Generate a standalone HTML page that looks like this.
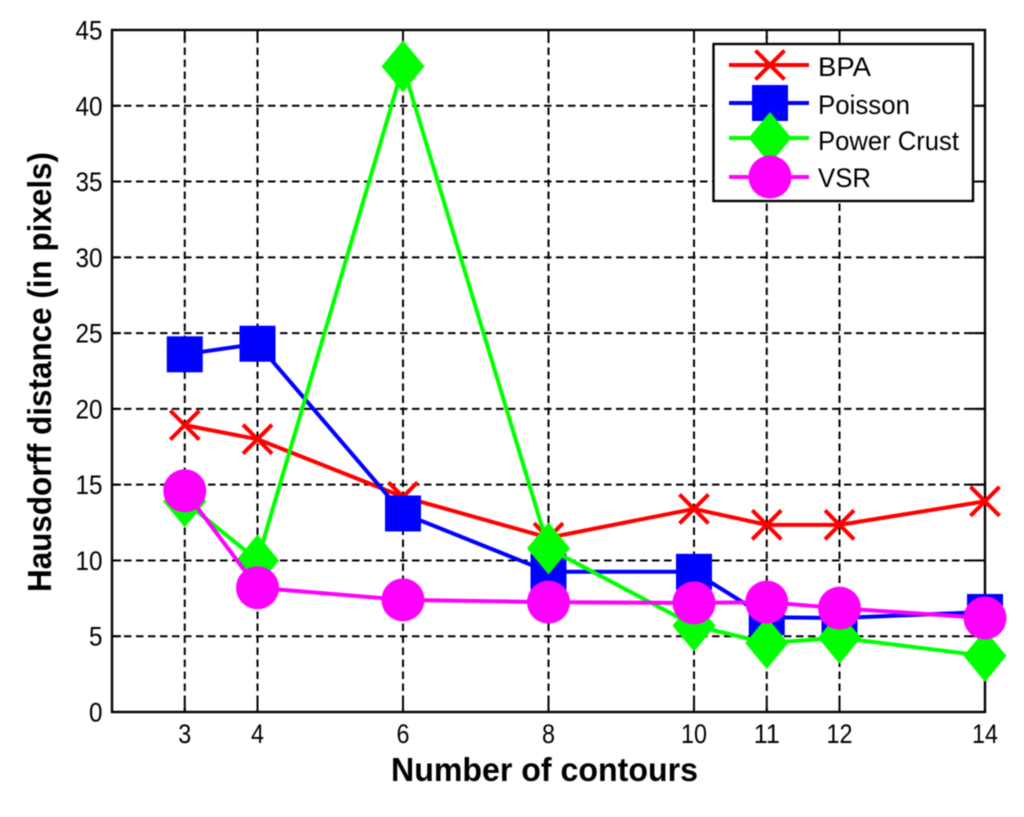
<!DOCTYPE html>
<html>
<head>
<meta charset="utf-8">
<title>Hausdorff distance chart</title>
<style>
  html, body { margin: 0; padding: 0; background: #fff; }
  #chart { display: block; width: 1024px; height: 817px; filter: blur(0.4px); }
  text { font-family: "Liberation Sans", sans-serif; fill: #000; }
</style>
</head>
<body>
<svg id="chart" xmlns="http://www.w3.org/2000/svg" width="1024" height="817" viewBox="0 0 1024 817"></svg>
<script>
const contourCounts = [3, 4, 6, 8, 10, 11, 12, 14];
const yTickValues = [0, 5, 10, 15, 20, 25, 30, 35, 40, 45];
const bpaValues = [18.93, 18.0, 14.2, 11.5, 13.4, 12.35, 12.35, 13.9];
const poissonValues = [23.6, 24.3, 13.1, 9.25, 9.25, 6.25, 6.2, 6.6];
const powerCrustValues = [13.9, 10.0, 42.6, 10.8, 5.7, 4.55, 4.9, 3.7];
const vsrValues = [14.6, 8.2, 7.4, 7.25, 7.2, 7.25, 6.85, 6.2];
const seriesNames = ['BPA', 'Poisson', 'Power Crust', 'VSR'];

const NS = 'http://www.w3.org/2000/svg';
const svg = document.getElementById('chart');
const plot = { left: 112, right: 985, top: 30, bottom: 712 };
const xMin = 2, xMax = 14, yMin = 0, yMax = 45;

function xScale(v) { return plot.left + (v - xMin) / (xMax - xMin) * (plot.right - plot.left); }
function yScale(v) { return plot.bottom - (v - yMin) / (yMax - yMin) * (plot.bottom - plot.top); }

function make(tag, attrs, parent) {
  const el = document.createElementNS(NS, tag);
  for (const k in attrs) el.setAttribute(k, attrs[k]);
  (parent || svg).appendChild(el);
  return el;
}

function drawMarker(kind, color, cx, cy, parent) {
  if (kind === 'x') {
    const r = 14.5;
    return make('path', { d: `M${cx - r} ${cy - r}L${cx + r} ${cy + r}M${cx - r} ${cy + r}L${cx + r} ${cy - r}`, stroke: color, 'stroke-width': 4, fill: 'none' }, parent);
  }
  if (kind === 'square') {
    return make('rect', { x: cx - 18, y: cy - 18, width: 36, height: 36, fill: color }, parent);
  }
  if (kind === 'diamond') {
    return make('polygon', { points: `${cx},${cy - 26} ${cx + 21.5},${cy} ${cx},${cy + 26} ${cx - 21.5},${cy}`, fill: color }, parent);
  }
  return make('circle', { cx: cx, cy: cy, r: 21.5, fill: color }, parent);
}

const bg = make('rect', { x: plot.left, y: plot.top, width: plot.right - plot.left, height: plot.bottom - plot.top, fill: '#fff' });



const gridGroup = make('g', { stroke: '#000', 'stroke-width': 2, 'stroke-dasharray': '7.5 4.5', fill: 'none' });


contourCounts.forEach(function (c) {
  const line = make('line', { x1: xScale(c), x2: xScale(c), y1: plot.bottom, y2: plot.top, 'stroke-dashoffset': 3 }, gridGroup);
  
  
});
yTickValues.slice(1, -1).forEach(function (t) {
  const line = make('line', { x1: plot.left, x2: plot.right, y1: yScale(t), y2: yScale(t) }, gridGroup);
  
  
});

const tickGroup = make('g', { stroke: '#000', 'stroke-width': 2, fill: 'none' });


const tickLen = 9;
contourCounts.forEach(function (c) {
  const x = xScale(c);
  make('line', { x1: x, x2: x, y1: plot.bottom, y2: plot.bottom - tickLen }, tickGroup);
  make('line', { x1: x, x2: x, y1: plot.top, y2: plot.top + tickLen }, tickGroup);
});
yTickValues.forEach(function (t) {
  const y = yScale(t);
  make('line', { x1: plot.left, x2: plot.left + tickLen, y1: y, y2: y }, tickGroup);
  make('line', { x1: plot.right, x2: plot.right - tickLen - 6, y1: y, y2: y }, tickGroup);
});

const frame = make('rect', { x: plot.left, y: plot.top, width: plot.right - plot.left, height: plot.bottom - plot.top, fill: 'none', stroke: '#000', 'stroke-width': 2.4 });



contourCounts.forEach(function (c) {
  const t = make('text', { x: xScale(c), y: 743, 'text-anchor': 'middle', 'font-size': 27, textLength: String(c).length * 13, lengthAdjust: 'spacingAndGlyphs' });
  t.textContent = c;
  
  
});
yTickValues.forEach(function (v) {
  const t = make('text', { x: 102.5, y: yScale(v) + 9.5, 'text-anchor': 'end', 'font-size': 27, textLength: String(v).length * 13.5, lengthAdjust: 'spacingAndGlyphs' });
  t.textContent = v;
  
  
});

const xTitle = make('text', { x: 544.5, y: 781, 'text-anchor': 'middle', 'font-size': 33, 'font-weight': 'bold', textLength: 307, lengthAdjust: 'spacingAndGlyphs' });
xTitle.textContent = 'Number of contours';



const yTitle = make('text', { x: 0, y: 0, 'text-anchor': 'middle', 'font-size': 33, 'font-weight': 'bold', textLength: 440, lengthAdjust: 'spacingAndGlyphs', transform: 'translate(51 372) rotate(-90)' });
yTitle.textContent = 'Hausdorff distance (in pixels)';



const seriesDefs = [
  { values: bpaValues, color: '#ff0000', marker: 'x', key: 'bpa' },
  { values: poissonValues, color: '#0000ff', marker: 'square', key: 'poisson' },
  { values: powerCrustValues, color: '#00ff00', marker: 'diamond', key: 'power-crust' },
  { values: vsrValues, color: '#ff00ff', marker: 'circle', key: 'vsr' }
];

seriesDefs.forEach(function (s) {
  const group = make('g', {});
  
  
  const pts = s.values.map(function (v, i) { return xScale(contourCounts[i]) + ',' + yScale(v); }).join(' ');
  const line = make('polyline', { points: pts, fill: 'none', stroke: s.color, 'stroke-width': 4 }, group);
  
  
  s.values.forEach(function (v, i) {
    const m = drawMarker(s.marker, s.color, xScale(contourCounts[i]), yScale(v), group);
    
    
  });
});

const legend = make('g', {});


const legendBox = make('rect', { x: 713.5, y: 44, width: 259.5, height: 157, fill: '#fff', stroke: '#000', 'stroke-width': 2.4 }, legend);


const legendRowY = [65, 103, 138, 177];
const legendBaselines = [76, 114, 150, 187];
const legendTextWidths = [53, 92, 141, 53];
seriesDefs.forEach(function (s, i) {
  const entry = make('g', {}, legend);
  
  
  const y = legendRowY[i];
  make('line', { x1: 729, x2: 809, y1: y, y2: y, stroke: s.color, 'stroke-width': 4 }, entry);
  drawMarker(s.marker, s.color, 770, y, entry);
  const label = make('text', { x: 818, y: legendBaselines[i], 'font-size': 27, textLength: legendTextWidths[i], lengthAdjust: 'spacingAndGlyphs' }, entry);
  label.textContent = seriesNames[i];
  
  
});
</script>
</body>
</html>
